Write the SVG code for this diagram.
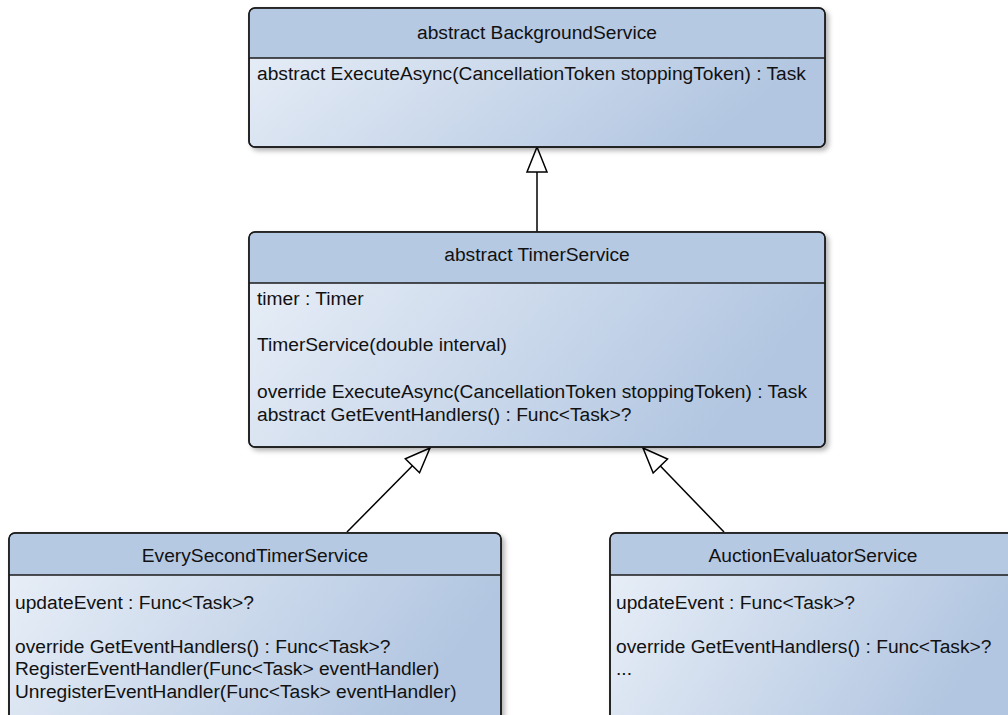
<svg xmlns="http://www.w3.org/2000/svg" width="1008" height="715" viewBox="0 0 1008 715">
  <defs>
    <linearGradient id="bodyFill" x1="0" y1="0" x2="1" y2="0.3">
      <stop offset="0" stop-color="#eaf0f8"/>
      <stop offset="1" stop-color="#b2c6e1"/>
    </linearGradient>
    <filter id="shadow" x="-5%" y="-5%" width="115%" height="120%">
      <feDropShadow dx="3" dy="3" stdDeviation="2.5" flood-color="#000" flood-opacity="0.3"/>
    </filter>
    <marker id="inherit" markerUnits="userSpaceOnUse" markerWidth="30" markerHeight="24" viewBox="-27 -12 30 24" refX="0" refY="0" orient="auto">
      <path d="M0,0 L-25,-10 L-25,10 Z" fill="#fff" stroke="#000" stroke-width="1.5" stroke-linejoin="miter"/>
    </marker>
  </defs>
  <style>
    .box { fill: url(#bodyFill); stroke: #1a1a1a; stroke-width: 1.5; filter: url(#shadow); }
    .head { fill: #b6c9e3; }
    .sep { stroke: #1a1a1a; stroke-width: 1.5; }
    .frame { fill: none; stroke: #1a1a1a; stroke-width: 1.5; }
    text { font-family: "Liberation Sans", Arial, sans-serif; font-size: 19.2px; fill: #111; }
    .title { text-anchor: middle; }
    .edge { fill: none; stroke: #000; stroke-width: 1.5; marker-end: url(#inherit); }
  </style>

  <rect width="1008" height="715" fill="#fff"/>

  <!-- inheritance connectors -->
  <g id="connectors">
    <path class="edge" d="M537,232 L537,147"/>
    <path class="edge" d="M347,532 L430,448"/>
    <path class="edge" d="M724,532 L643,448"/>
  </g>

  <g id="BackgroundService">
    <rect class="box" x="249" y="8" width="576" height="139" rx="6"/>
    <path class="head" d="M255,8.75 H819 A5.25,5.25 0 0 1 824.25,14 V58 H249.75 V14 A5.25,5.25 0 0 1 255,8.75 Z"/>
    <line class="sep" x1="249" y1="58" x2="825" y2="58"/>
    <rect class="frame" x="249" y="8" width="576" height="139" rx="6"/>
    <text class="title" x="537" y="39">abstract BackgroundService</text>
    <text x="257" y="80">abstract ExecuteAsync(CancellationToken stoppingToken) : Task</text>
  </g>

  <g id="TimerService">
    <rect class="box" x="249" y="232" width="576" height="215" rx="6"/>
    <path class="head" d="M255,232.75 H819 A5.25,5.25 0 0 1 824.25,238 V283 H249.75 V238 A5.25,5.25 0 0 1 255,232.75 Z"/>
    <line class="sep" x1="249" y1="283" x2="825" y2="283"/>
    <rect class="frame" x="249" y="232" width="576" height="215" rx="6"/>
    <text class="title" x="537" y="261">abstract TimerService</text>
    <text x="257" y="305">timer : Timer</text>
    <text x="257" y="351">TimerService(double interval)</text>
    <text x="257" y="398">override ExecuteAsync(CancellationToken stoppingToken) : Task</text>
    <text x="257" y="421">abstract GetEventHandlers() : Func&lt;Task&gt;?</text>
  </g>

  <g id="EverySecondTimerService">
    <rect class="box" x="9" y="533" width="492" height="200" rx="6"/>
    <path class="head" d="M15,533.75 H495 A5.25,5.25 0 0 1 500.25,539 V575 H9.75 V539 A5.25,5.25 0 0 1 15,533.75 Z"/>
    <line class="sep" x1="9" y1="575" x2="501" y2="575"/>
    <rect class="frame" x="9" y="533" width="492" height="200" rx="6"/>
    <text class="title" x="255" y="562">EverySecondTimerService</text>
    <text x="15" y="609">updateEvent : Func&lt;Task&gt;?</text>
    <text x="15" y="653">override GetEventHandlers() : Func&lt;Task&gt;?</text>
    <text x="15" y="675">RegisterEventHandler(Func&lt;Task&gt; eventHandler)</text>
    <text x="15" y="698">UnregisterEventHandler(Func&lt;Task&gt; eventHandler)</text>
  </g>

  <g id="AuctionEvaluatorService">
    <rect class="box" x="610" y="533" width="406" height="200" rx="6"/>
    <path class="head" d="M616,533.75 H1010 A5.25,5.25 0 0 1 1015.25,539 V575 H610.75 V539 A5.25,5.25 0 0 1 616,533.75 Z"/>
    <line class="sep" x1="610" y1="575" x2="1016" y2="575"/>
    <rect class="frame" x="610" y="533" width="406" height="200" rx="6"/>
    <text class="title" x="813" y="562">AuctionEvaluatorService</text>
    <text x="616" y="609">updateEvent : Func&lt;Task&gt;?</text>
    <text x="616" y="653">override GetEventHandlers() : Func&lt;Task&gt;?</text>
    <text x="616" y="675">...</text>
  </g>
</svg>
